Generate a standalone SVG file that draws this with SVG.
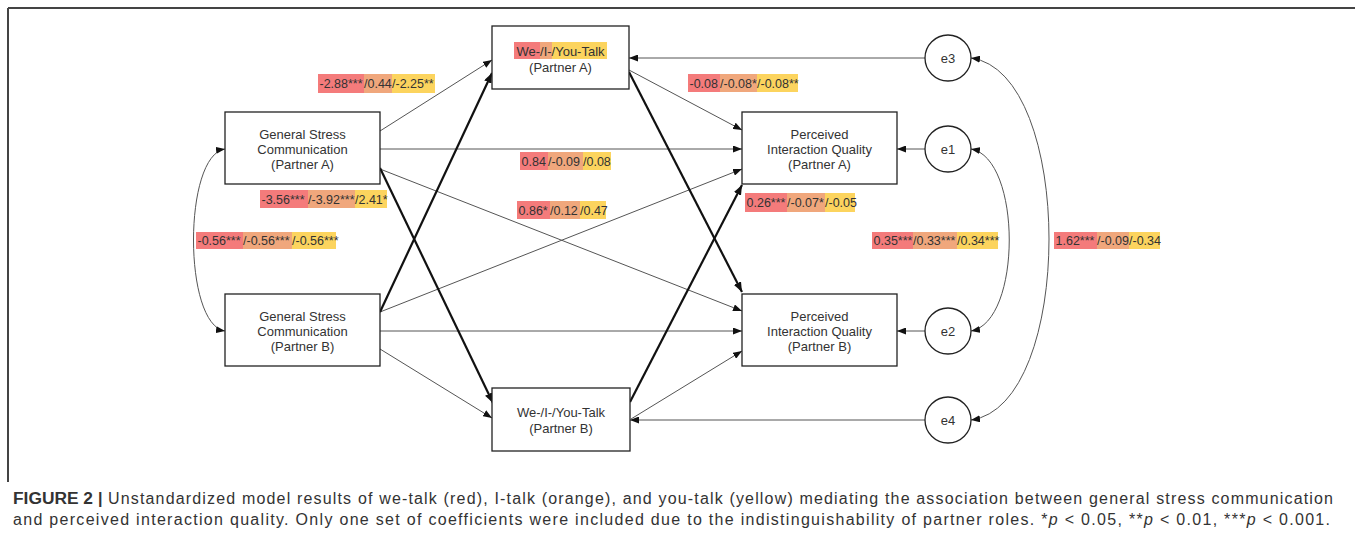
<svg xmlns="http://www.w3.org/2000/svg" width="1355" height="544" viewBox="0 0 1355 544">
  <style>
    .box { fill: #ffffff; stroke: #222; stroke-width: 1.3; }
    .err { fill: #ffffff; stroke: #222; stroke-width: 1.3; }
    .lbl { font-family: "Liberation Sans", Arial, sans-serif; font-size: 12.5px; fill: #333; }
    .nd { font-family: "Liberation Sans", Arial, sans-serif; font-size: 13px; fill: #333; text-anchor: middle; }
    .thin { fill: none; stroke: #555; stroke-width: 1; marker-end: url(#ah); }
    .thick { fill: none; stroke: #111; stroke-width: 2.2; marker-end: url(#ahb); }
    .cov { fill: none; stroke: #555; stroke-width: 1; marker-start: url(#ah); marker-end: url(#ah); }
    .r { fill: #f47b7b; }
    .o { fill: #f0a77c; }
    .y { fill: #fcd45e; }
    .cap { font-family: "Liberation Sans", Arial, sans-serif; font-size: 16px; fill: #333; }
  </style>
  <defs>
    <marker id="ah" markerUnits="userSpaceOnUse" markerWidth="9" markerHeight="7" refX="9" refY="3.5" orient="auto-start-reverse">
      <path d="M0,0 L9,3.5 L0,7 z" fill="#111"/>
    </marker>
    <marker id="ahb" markerUnits="userSpaceOnUse" markerWidth="10" markerHeight="8" refX="10" refY="4" orient="auto">
      <path d="M0,0 L10,4 L0,8 z" fill="#111"/>
    </marker>
  </defs>

  <!-- figure frame (top and left edges) -->
  <path d="M8,8 H1355 M8,8 V482" fill="none" stroke="#444" stroke-width="2"/>

  <!-- connectors -->
  <g id="connectors">
    <path class="thin" d="M380,131 L492,60"/>
    <path class="thin" d="M380,149 L742,149"/>
    <path class="thin" d="M380,169 L742,311"/>
    <path class="thin" d="M380,312 L742,169"/>
    <path class="thin" d="M380,331 L742,331"/>
    <path class="thin" d="M380,349 L492,418"/>
    <path class="thin" d="M629,70 L742,130"/>
    <path class="thin" d="M631,419 L742,351"/>
    <path class="thin" d="M925,58 L629,58"/>
    <path class="thin" d="M925,149 L897,149"/>
    <path class="thin" d="M925,331 L897,331"/>
    <path class="thin" d="M925,420 L630,420"/>
    <path class="thick" d="M380,168 L493,403"/>
    <path class="thick" d="M380,312 L492,73"/>
    <path class="thick" d="M629,72 L742,292"/>
    <path class="thick" d="M630,402 L742,185"/>
    <path class="cov" d="M225,149 C183,155 183,325 225,331"/>
    <path class="cov" d="M971,149 C1022,158 1022,322 971,331"/>
    <path class="cov" d="M971,58 C1075,72 1075,406 971,420"/>
  </g>

  <!-- nodes -->
  <g id="gsc-a">
    <rect class="box" x="225" y="112" width="155" height="72"/>
    <text class="nd" x="302.5" y="138.5">General Stress</text>
    <text class="nd" x="302.5" y="153.5">Communication</text>
    <text class="nd" x="302.5" y="168.5">(Partner A)</text>
  </g>
  <g id="gsc-b">
    <rect class="box" x="225" y="294" width="155" height="72"/>
    <text class="nd" x="302.5" y="320.5">General Stress</text>
    <text class="nd" x="302.5" y="335.5">Communication</text>
    <text class="nd" x="302.5" y="350.5">(Partner B)</text>
  </g>
  <g id="talk-a">
    <rect class="box" x="492" y="26" width="137" height="63"/>
    <rect class="r" x="514" y="42" width="26" height="17"/>
    <rect class="o" x="540" y="42" width="12" height="17"/>
    <rect class="y" x="552" y="42" width="55" height="17"/>
    <text class="nd" x="560.5" y="55.5">We-/I-/You-Talk</text>
    <text class="nd" x="560.5" y="71.5">(Partner A)</text>
  </g>
  <g id="talk-b">
    <rect class="box" x="492" y="388" width="138" height="63"/>
    <text class="nd" x="561" y="416.5">We-/I-/You-Talk</text>
    <text class="nd" x="561" y="432.5">(Partner B)</text>
  </g>
  <g id="piq-a">
    <rect class="box" x="742" y="112" width="155" height="72"/>
    <text class="nd" x="819.5" y="138.5">Perceived</text>
    <text class="nd" x="819.5" y="153.5">Interaction Quality</text>
    <text class="nd" x="819.5" y="168.5">(Partner A)</text>
  </g>
  <g id="piq-b">
    <rect class="box" x="742" y="294" width="155" height="72"/>
    <text class="nd" x="819.5" y="320.5">Perceived</text>
    <text class="nd" x="819.5" y="335.5">Interaction Quality</text>
    <text class="nd" x="819.5" y="350.5">(Partner B)</text>
  </g>
  <g id="e3">
    <circle class="err" cx="948" cy="58" r="23"/>
    <text class="nd" x="948" y="62.5">e3</text>
  </g>
  <g id="e1">
    <circle class="err" cx="948" cy="149" r="23"/>
    <text class="nd" x="948" y="153.5">e1</text>
  </g>
  <g id="e2">
    <circle class="err" cx="948" cy="331" r="23"/>
    <text class="nd" x="948" y="335.5">e2</text>
  </g>
  <g id="e4">
    <circle class="err" cx="948" cy="420" r="23"/>
    <text class="nd" x="948" y="424.5">e4</text>
  </g>

  <!-- coefficient labels: we-talk / I-talk / you-talk -->
  <g id="coefficients">
    <rect class="r" x="318" y="74" width="46" height="19"/><rect class="o" x="364" y="74" width="28" height="19"/><rect class="y" x="392" y="74" width="43" height="19"/>
    <text class="lbl" x="319.5" y="88">-2.88***</text><text class="lbl" x="364" y="88">/0.44</text><text class="lbl" x="392" y="88">/-2.25**</text>

    <rect class="r" x="688" y="74" width="32" height="18"/><rect class="o" x="720" y="74" width="37" height="18"/><rect class="y" x="757" y="74" width="41" height="18"/>
    <text class="lbl" x="689.5" y="87.5">-0.08</text><text class="lbl" x="720" y="87.5">/-0.08*</text><text class="lbl" x="757" y="87.5">/-0.08**</text>

    <rect class="r" x="520" y="152" width="28" height="18"/><rect class="o" x="548" y="152" width="35" height="18"/><rect class="y" x="583" y="152" width="28" height="18"/>
    <text class="lbl" x="521.5" y="165.5">0.84</text><text class="lbl" x="548" y="165.5">/-0.09</text><text class="lbl" x="583" y="165.5">/0.08</text>

    <rect class="r" x="260" y="190" width="48" height="18"/><rect class="o" x="308" y="190" width="47" height="18"/><rect class="y" x="355" y="190" width="32" height="18"/>
    <text class="lbl" x="261.5" y="203.5">-3.56***</text><text class="lbl" x="308" y="203.5">/-3.92***</text><text class="lbl" x="355" y="203.5">/2.41*</text>

    <rect class="r" x="517" y="201" width="33" height="18"/><rect class="o" x="550" y="201" width="30" height="18"/><rect class="y" x="580" y="201" width="26" height="18"/>
    <text class="lbl" x="518.5" y="214.5">0.86*</text><text class="lbl" x="550" y="214.5">/0.12</text><text class="lbl" x="580" y="214.5">/0.47</text>

    <rect class="r" x="196" y="232" width="47" height="17"/><rect class="o" x="243" y="232" width="49" height="17"/><rect class="y" x="292" y="232" width="44" height="17"/>
    <text class="lbl" x="197.5" y="245">-0.56***</text><text class="lbl" x="243" y="245">/-0.56***</text><text class="lbl" x="292" y="245">/-0.56***</text>

    <rect class="r" x="745" y="193" width="42" height="19"/><rect class="o" x="787" y="193" width="38" height="19"/><rect class="y" x="825" y="193" width="30" height="19"/>
    <text class="lbl" x="746.5" y="207">0.26***</text><text class="lbl" x="787" y="207">/-0.07*</text><text class="lbl" x="825" y="207">/-0.05</text>

    <rect class="r" x="872" y="232" width="41" height="17"/><rect class="o" x="913" y="232" width="44" height="17"/><rect class="y" x="957" y="232" width="41" height="17"/>
    <text class="lbl" x="873.5" y="245">0.35***</text><text class="lbl" x="913" y="245">/0.33***</text><text class="lbl" x="957" y="245">/0.34***</text>

    <rect class="r" x="1054" y="232" width="43" height="17"/><rect class="o" x="1097" y="232" width="32" height="17"/><rect class="y" x="1129" y="232" width="31" height="17"/>
    <text class="lbl" x="1055.5" y="245">1.62***</text><text class="lbl" x="1097" y="245">/-0.09</text><text class="lbl" x="1129" y="245">/-0.34</text>
  </g>

  <!-- caption -->
  <g id="caption">
    <text class="cap" x="13" y="504" font-weight="bold" fill="#222" textLength="80" lengthAdjust="spacingAndGlyphs">FIGURE 2</text>
    <text class="cap" x="98" y="504" font-weight="bold">|</text>
    <text class="cap" x="108" y="504" textLength="1225" lengthAdjust="spacing">Unstandardized model results of we-talk (red), I-talk (orange), and you-talk (yellow) mediating the association between general stress communication</text>
    <text class="cap" x="13" y="525" textLength="1317" lengthAdjust="spacing">and perceived interaction quality. Only one set of coefficients were included due to the indistinguishability of partner roles. *<tspan font-style="italic">p</tspan> &lt; 0.05, **<tspan font-style="italic">p</tspan> &lt; 0.01, ***<tspan font-style="italic">p</tspan> &lt; 0.001.</text>
  </g>
</svg>
